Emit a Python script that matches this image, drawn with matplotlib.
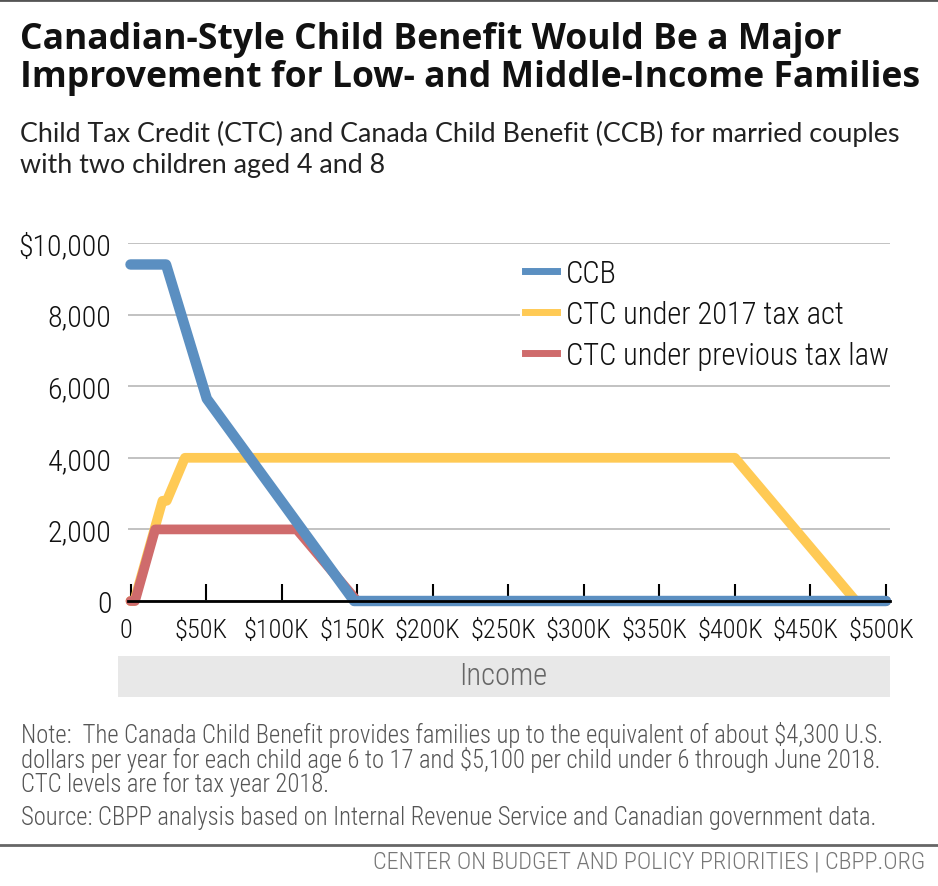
import matplotlib
matplotlib.use('Agg')
import matplotlib.pyplot as plt
from matplotlib import font_manager
from matplotlib.patches import Rectangle
from matplotlib.lines import Line2D
import matplotlib.transforms as mtransforms

names = {f.name for f in font_manager.fontManager.ttflist}
def pick(*cands):
    for c in cands:
        if c in names:
            return c
    return 'DejaVu Sans'

NARROW = pick('Liberation Sans Narrow', 'Roboto Condensed', 'Open Sans Condensed', 'Liberation Sans')
BOLD = pick('Open Sans', 'Lato', 'Roboto', 'Liberation Sans')
LIGHT = pick('Lato', 'Open Sans', 'Roboto', 'Liberation Sans')

# ---------------- data ----------------
x_ticks = [0, 50000, 100000, 150000, 200000, 250000, 300000, 350000, 400000, 450000, 500000]
x_tick_labels = ['0', '$50K', '$100K', '$150K', '$200K', '$250K', '$300K', '$350K', '$400K', '$450K', '$500K']
y_ticks = [0, 2000, 4000, 6000, 8000, 10000]
y_tick_labels = ['0', '2,000', '4,000', '6,000', '8,000', '$10,000']

ccb_income = [0, 23500, 50500, 148000, 500000]
ccb_value = [9400, 9400, 5650, 0, 0]

ctc2017_income = [0, 2500, 21167, 24000, 36000, 400000, 480000, 500000]
ctc2017_value = [0, 0, 2800, 2800, 4000, 4000, 0, 0]

ctcprev_income = [0, 3000, 16333, 110000, 150000, 500000]
ctcprev_value = [0, 0, 2000, 2000, 0, 0]

series_labels = ['CCB', 'CTC under 2017 tax act', 'CTC under previous tax law']
colors = ['#5B8FC1', '#FFCA55', '#CF6B6C']

title_lines = ['Canadian-Style Child Benefit Would Be a Major',
               'Improvement for Low- and Middle-Income Families']
subtitle_lines = ['Child Tax Credit (CTC) and Canada Child Benefit (CCB) for married couples',
                  'with two children aged 4 and 8']
note_lines = ['Note:  The Canada Child Benefit provides families up to the equivalent of about $4,300 U.S.',
              'dollars per year for each child age 6 to 17 and $5,100 per child under 6 through June 2018.',
              'CTC levels are for tax year 2018.']
source_line = 'Source: CBPP analysis based on Internal Revenue Service and Canadian government data.'
footer = 'CENTER ON BUDGET AND POLICY PRIORITIES | CBPP.ORG'
x_title = 'Income'

# ---------------- figure ----------------
W, H = 938, 887
fig = plt.figure(figsize=(W / 100, H / 100), dpi=100)
fig.patch.set_facecolor('white')

def fx(px):
    return px / W
def fy(py):
    return 1 - py / H

ax = fig.add_axes([fx(128), fy(602), (890 - 128) / W, (602 - 244) / H])
x0 = -2.5 / 755.5 * 500000
x1 = 500000 + 4 / 755.5 * 500000
ax.set_xlim(x0, x1)
ax.set_ylim(0, 10000)

ax.plot(ctc2017_income, ctc2017_value, color=colors[1], lw=7, solid_capstyle='round',
        solid_joinstyle='round', zorder=3, clip_on=False)
ax.plot(ctcprev_income, ctcprev_value, color=colors[2], lw=7, solid_capstyle='round',
        solid_joinstyle='round', zorder=4, clip_on=False)
ax.plot(ccb_income, ccb_value, color=colors[0], lw=7.5, solid_capstyle='round',
        solid_joinstyle='round', zorder=5, clip_on=False)

for s in ['top', 'right', 'left']:
    ax.spines[s].set_visible(False)
ax.spines['bottom'].set_color('black')
ax.spines['bottom'].set_linewidth(2)
ax.spines['bottom'].set_zorder(10)

ax.set_yticks(y_ticks)
ax.set_yticklabels(y_tick_labels, fontfamily=NARROW, fontweight='light', fontsize=21.5, color='#111111')
ax.tick_params(axis='y', length=0, pad=12)
ax.set_xticks(x_ticks)
ax.set_xticklabels(x_tick_labels, fontfamily=NARROW, fontweight='light', fontsize=19, color='#111111')
ax.tick_params(axis='x', direction='in', length=12, width=1.5, color='black', pad=12)
ax.xaxis.set_zorder(10)
offset = mtransforms.ScaledTranslation(-5 / 100, 0, fig.dpi_scale_trans)
for lab in ax.get_xticklabels():
    lab.set_transform(lab.get_transform() + offset)

ax.yaxis.grid(True, color='#bdbdbd', lw=1.3)
ax.set_axisbelow(True)

handles = [Line2D([], [], color=c, lw=5) for c in colors]
leg = ax.legend(handles, series_labels, loc='upper left',
                bbox_to_anchor=(fx(520), fy(255)), bbox_transform=fig.transFigure,
                frameon=True, fancybox=False, framealpha=1, edgecolor='none',
                facecolor='white', borderpad=0.15, borderaxespad=0,
                handlelength=1.05, handletextpad=0.3, labelspacing=0.4,
                prop={'family': NARROW, 'size': 22, 'weight': 'light'})
for t in leg.get_texts():
    t.set_color('#111111')
leg.set_zorder(6)

# Income box
fig.add_artist(Rectangle((fx(118), fy(698)), (890 - 118) / W, 41 / H,
                         transform=fig.transFigure, facecolor='#e8e8e8', edgecolor='none'))
fig.text(fx(503), fy(677), x_title, ha='center', va='center', fontfamily=NARROW,
         fontweight='light', fontsize=22, color='#666666')

# top rule
fig.add_artist(Line2D([0, 1], [fy(1), fy(1)], transform=fig.transFigure, color='#555555', lw=2))
# bottom rule
fig.add_artist(Line2D([0, 1], [fy(846), fy(846)], transform=fig.transFigure, color='#666666', lw=2))

renderer = fig.canvas.get_renderer()

def fit(t, target):
    w = t.get_window_extent(renderer).width
    t.set_fontsize(t.get_fontsize() * target / w)

t1 = fig.text(fx(20), fy(40), title_lines[0], ha='left', va='center', fontfamily=BOLD,
              fontweight='bold', fontsize=20, color='#111111')
t2 = fig.text(fx(20), fy(78), title_lines[1], ha='left', va='center', fontfamily=BOLD,
              fontweight='bold', fontsize=20, color='#111111')
fit(t1, 828); fit(t2, 892)
s = (t1.get_fontsize() + t2.get_fontsize()) / 2
t1.set_fontsize(s); t2.set_fontsize(s)

s1 = fig.text(fx(20), fy(134), subtitle_lines[0], ha='left', va='center', fontfamily=LIGHT,
              fontweight='normal', fontsize=16, color='#222222')
s2 = fig.text(fx(20), fy(166), subtitle_lines[1], ha='left', va='center', fontfamily=LIGHT,
              fontweight='normal', fontsize=16, color='#222222')
fit(s1, 885)
s2.set_fontsize(s1.get_fontsize())

note_y = [735, 760, 784]
nts = []
for ln, yy in zip(note_lines, note_y):
    nts.append(fig.text(fx(21), fy(yy), ln, ha='left', va='center', fontfamily=NARROW,
                        fontweight='light', fontsize=13, color='#555555'))
fit(nts[0], 859)
for n in nts[1:]:
    n.set_fontsize(nts[0].get_fontsize())
src = fig.text(fx(21), fy(818), source_line, ha='left', va='center', fontfamily=NARROW,
               fontweight='light', fontsize=nts[0].get_fontsize(), color='#555555')

ft = fig.text(fx(925), fy(862), footer, ha='right', va='center', fontfamily=NARROW,
              fontweight='light', fontsize=12, color='#777777')
fit(ft, 553)

fig.savefig('out.png', dpi=100, facecolor='white')
